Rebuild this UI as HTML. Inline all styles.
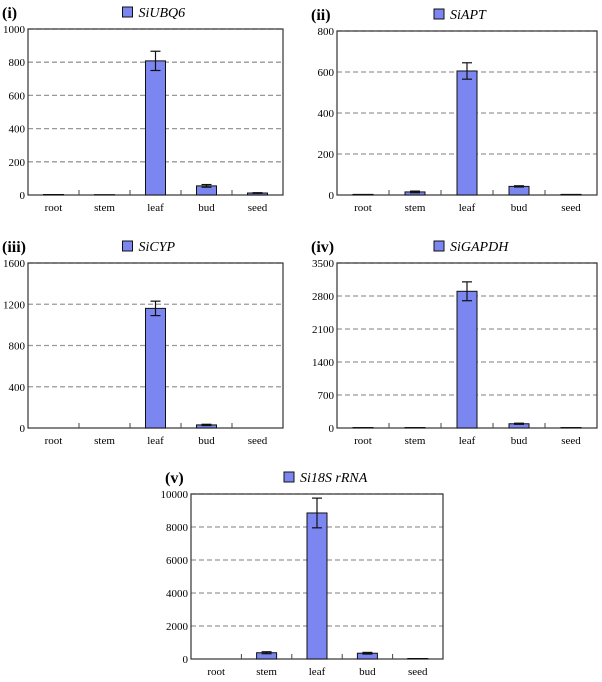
<!DOCTYPE html>
<html><head><meta charset="utf-8"><style>
body{margin:0;background:#fff;width:602px;height:677px;overflow:hidden}
svg{font-family:"Liberation Serif",serif}
</style></head><body>
<svg id="c" width="602" height="677"></svg>
<script>
const categories=["root","stem","leaf","bud","seed"];
const genes=["SiUBQ6","SiAPT","SiCYP","SiGAPDH","Si18S rRNA"];
const panelLabels=["(i)","(ii)","(iii)","(iv)","(v)"];
const yMax=[1000,800,1600,3500,10000];
const yTicks=[[0,200,400,600,800,1000],[0,200,400,600,800],[0,400,800,1200,1600],[0,700,1400,2100,2800,3500],[0,2000,4000,6000,8000,10000]];
const values=[[3,2,808,55,12],[3,15,605,42,3],[0,0,1160,30,0],[10,10,2900,90,10],[0,380,8850,350,30]];
const errors=[[0,0,58,8,2],[0,4,40,3,0],[0,0,70,6,0],[0,0,200,12,0],[0,60,900,50,0]];
const boxes=[[28,29,283,195],[337,31,597,195],[28,263,283,428],[337,263,597,428],[191,494,443,659]];
const NS="http://www.w3.org/2000/svg";
const svg=document.getElementById('c');
function el(t,a,p){const e=document.createElementNS(NS,t);for(const k in a)e.setAttribute(k,a[k]);(p||svg).appendChild(e);return e;}
boxes.forEach((b,pi)=>{
  const [x0,y0,x1,y1]=b;
  const g=el('g',{});
  
  
  const y=v=>y1-(v/yMax[pi])*(y1-y0);
  const cw=(x1-x0)/categories.length;
  const lab=el('text',{x:x0-26,y:y0-11,'font-size':16,'font-weight':'bold'},g);lab.textContent=panelLabels[pi];
  
  const cx=(x0+x1)/2;
  const ls=el('rect',{x:cx-33,y:y0-22,width:10,height:10,fill:'#7b86f0',stroke:'#111','stroke-width':1},g);
  
  const lt=el('text',{x:cx-17,y:y0-12,'font-size':14,'font-style':'italic'},g);lt.textContent=genes[pi];
  
  yTicks[pi].forEach(t=>{
    const yy=y(t);
    if(t>0){const gl=el('line',{x1:x0,x2:x1,y1:yy,y2:yy,stroke:'#999','stroke-dasharray':'5,3','stroke-width':1.3},g);
      }
    const tl=el('text',{x:x0-3,y:yy+4,'font-size':11,'text-anchor':'end'},g);tl.textContent=t;
    
  });
  const fr=el('rect',{x:x0,y:y0,width:x1-x0,height:y1-y0,fill:'none',stroke:'#333','stroke-width':1.2},g);
  
  for(let i=1;i<categories.length;i++){el('line',{x1:x0+i*cw,x2:x0+i*cw,y1:y1,y2:y1-5,stroke:'#444'},g);}
  categories.forEach((c,i)=>{
    const bx=x0+cw*(i+0.5),bw=20,v=values[pi][i],e=errors[pi][i];
    const r=el('rect',{x:bx-bw/2,y:y(v),width:bw,height:Math.max(0,y1-y(v)),fill:'#7b86f0',stroke:'#111','stroke-width':1},g);
    
    if(e>0){
      el('line',{x1:bx,x2:bx,y1:y(v+e),y2:y(v-e),stroke:'#111','stroke-width':1.2},g);
      el('line',{x1:bx-5,x2:bx+5,y1:y(v+e),y2:y(v+e),stroke:'#111','stroke-width':1.2},g);
      el('line',{x1:bx-5,x2:bx+5,y1:y(v-e),y2:y(v-e),stroke:'#111','stroke-width':1.2},g);
    }
    const xl=el('text',{x:bx,y:y1+16,'font-size':11,'text-anchor':'middle'},g);xl.textContent=c;
    
  });
});
</script>
</body></html>
